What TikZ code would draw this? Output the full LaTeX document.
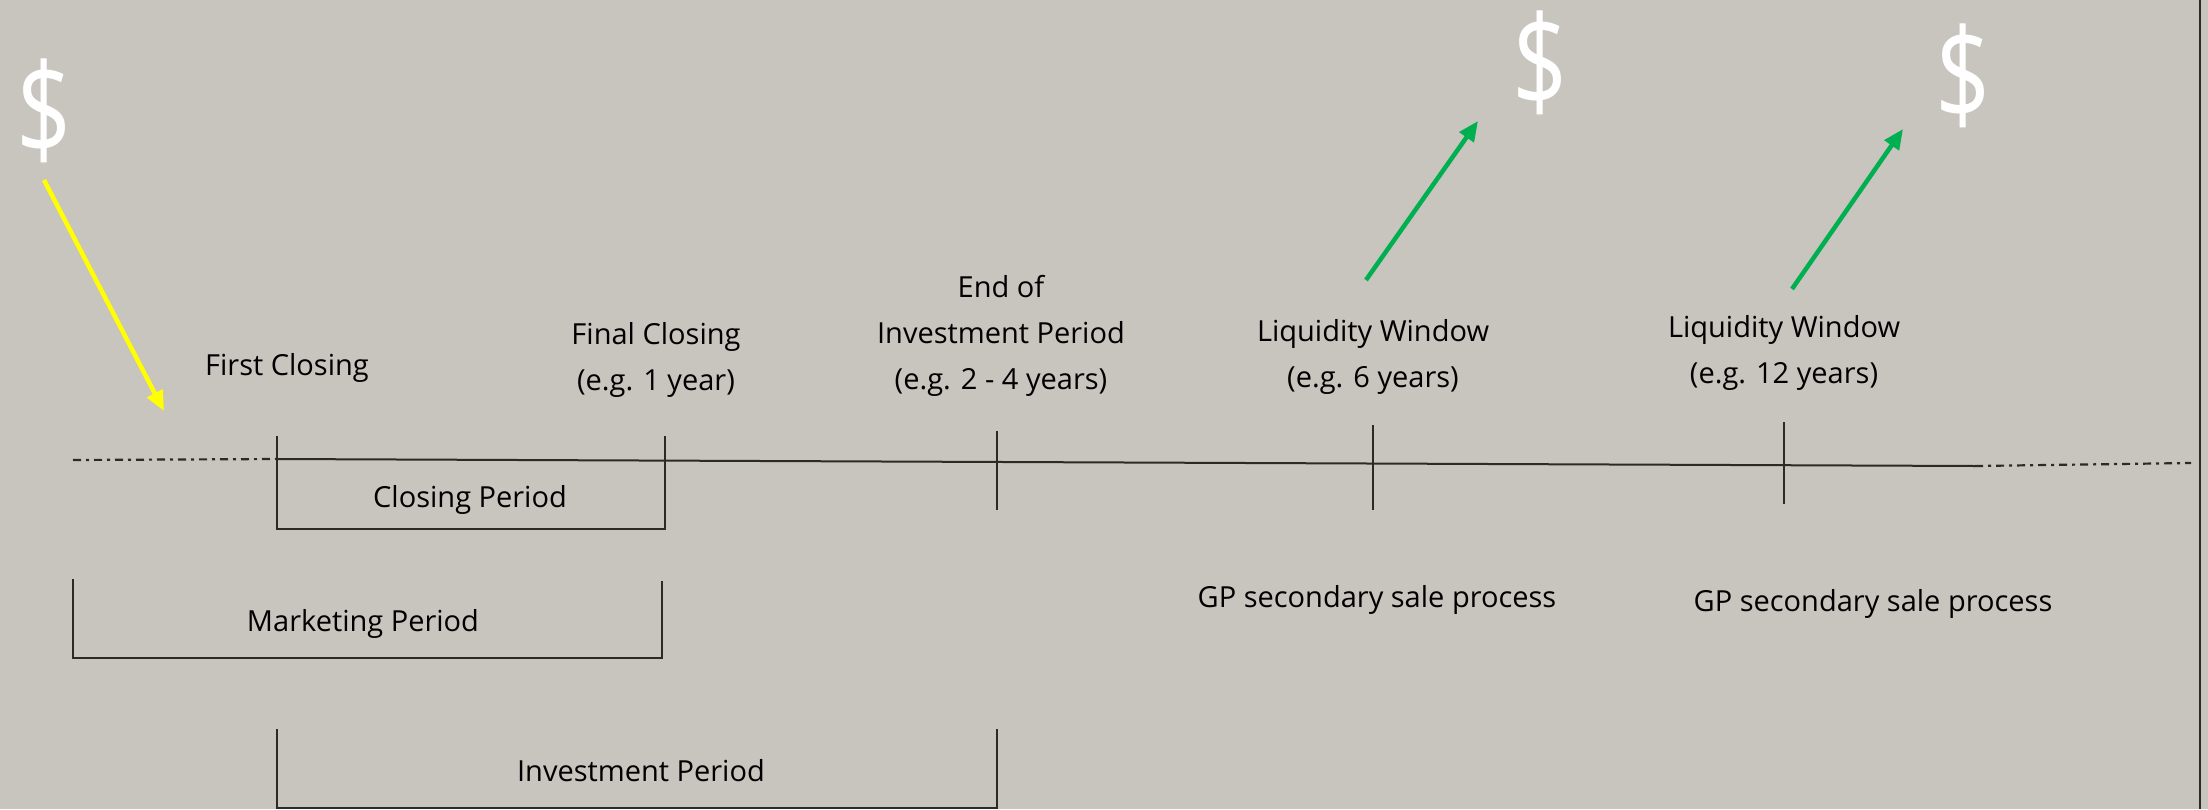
\documentclass[tikz,border=0pt]{standalone}
\usepackage{fontspec}
\setmainfont{Open Sans}
\usetikzlibrary{arrows.meta}
\definecolor{bg}{HTML}{C8C4BE}
\definecolor{ink}{HTML}{2B2B25}
\definecolor{gold}{HTML}{FFFF00}
\definecolor{grn}{HTML}{00B050}
\tikzset{
  lbl/.style={inner sep=0pt, align=center, text=black, font=\fontsize{29}{46}\selectfont},
  tl/.style={draw=ink, line width=2pt},
  dd/.style={draw=ink, line width=2.2pt, dash pattern=on 8pt off 5pt on 3pt off 5pt},
  dollar/.style={inner sep=0pt, text=white, xscale=0.82, yscale=1.08, font=\fontsize{118}{118}\selectfont},
  flow/.style={line width=4.5pt, -{Triangle[length=20pt, width=17pt]}},
}
\begin{document}
\begin{tikzpicture}[x=1pt, y=-1pt]
\fill[bg] (0,0) rectangle (2208,809);
\useasboundingbox (0,0) rectangle (2208,809);
% right border
\draw[tl] (2200,0) -- (2200,809);
% timeline
\coordinate (l0) at (73,460);
\coordinate (l1) at (277,459);
\coordinate (l2) at (1975,466);
\coordinate (l3) at (2191,463);
\draw[dd] (l0) -- (l1);
\draw[tl] (l1) -- (l2);
\draw[dd] (l2) -- (l3);
% ticks
\coordinate (t1a) at (277,436); \coordinate (t1b) at (277,529);
\coordinate (t2a) at (665,436); \coordinate (t2b) at (665,529);
\coordinate (t3a) at (997,431); \coordinate (t3b) at (997,510);
\coordinate (t4a) at (1373,425); \coordinate (t4b) at (1373,510);
\coordinate (t5a) at (1784,422); \coordinate (t5b) at (1784,504);
\draw[tl] (t1a) -- (t1b) -- (t2b) -- (t2a);
\draw[tl] (t3a) -- (t3b);
\draw[tl] (t4a) -- (t4b);
\draw[tl] (t5a) -- (t5b);
% marketing bracket
\coordinate (m1) at (73,579); \coordinate (m2) at (73,658);
\coordinate (m3) at (662,658); \coordinate (m4) at (662,581);
\draw[tl] (m1) -- (m2) -- (m3) -- (m4);
% investment bracket
\coordinate (i1) at (277,729); \coordinate (i2) at (277,808);
\coordinate (i3) at (997,808); \coordinate (i4) at (997,729);
\draw[tl] (i1) -- (i2) -- (i3) -- (i4);
% labels
\node[lbl] (fc) at (287,368) {First Closing};
\node[lbl] (fin) at (656,360) {Final Closing\\(e.g. 1 year)};
\node[lbl] (end) at (1001,336) {End of\\Investment Period\\(e.g. 2 - 4 years)};
\node[lbl] (lw1) at (1373,357) {Liquidity Window\\(e.g. 6 years)};
\node[lbl] (lw2) at (1784,353) {Liquidity Window\\(e.g. 12 years)};
\node[lbl] (cp) at (470,500) {Closing Period};
\node[lbl] (mp) at (363,624) {Marketing Period};
\node[lbl] (ip) at (641,771) {Investment Period};
\node[lbl] (gp1) at (1377,600) {GP secondary sale process};
\node[lbl] (gp2) at (1873,604) {GP secondary sale process};
% dollars
\node[dollar] (d0) at (44,111) {\$};
\node[dollar] (d1) at (1540,63) {\$};
\node[dollar] (d2) at (1963,76) {\$};
% arrows
\coordinate (y0) at (44,180); \coordinate (y1) at (164,411);
\coordinate (g0) at (1366,280); \coordinate (g1) at (1478,121);
\coordinate (h0) at (1792,289); \coordinate (h1) at (1903,129);
\draw[flow, draw=gold, fill=gold] (y0) -- (y1);
\draw[flow, draw=grn, fill=grn] (g0) -- (g1);
\draw[flow, draw=grn, fill=grn] (h0) -- (h1);
\end{tikzpicture}
\end{document}
